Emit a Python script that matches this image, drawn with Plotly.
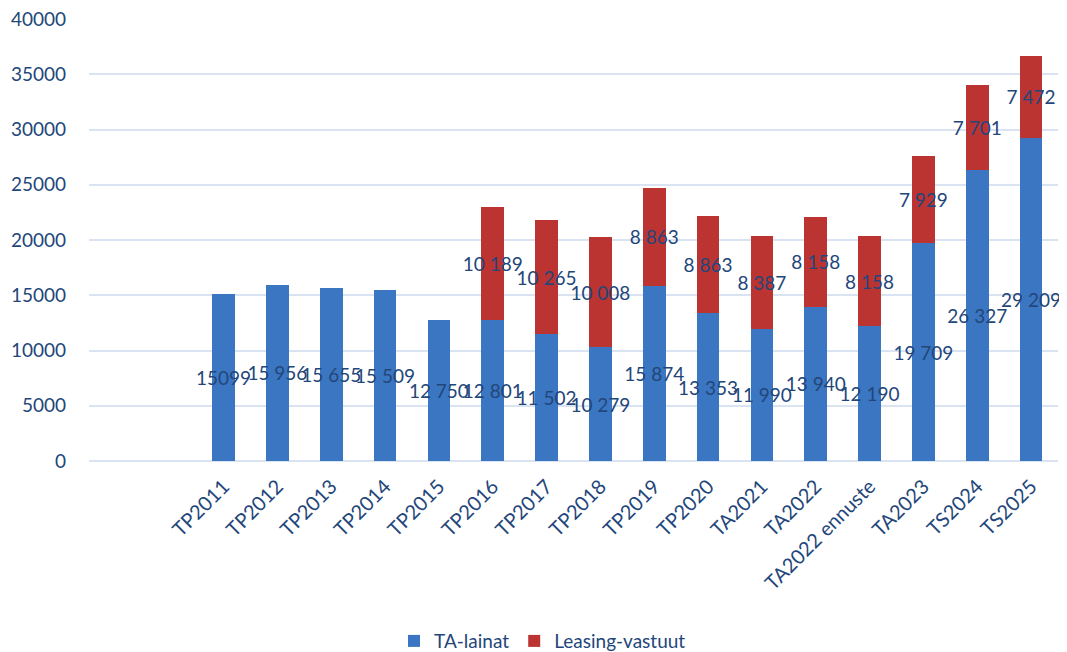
import plotly.graph_objects as go

categories = ["TP2011", "TP2012", "TP2013", "TP2014", "TP2015", "TP2016", "TP2017",
              "TP2018", "TP2019", "TP2020", "TA2021", "TA2022", "TA2022 ennuste",
              "TA2023", "TS2024", "TS2025"]
ta_lainat = [15099, 15956, 15655, 15509, 12750, 12801, 11502, 10279, 15874, 13353,
             11990, 13940, 12190, 19709, 26327, 29209]
leasing = [None, None, None, None, None, 10189, 10265, 10008, 8863, 8863,
           8387, 8158, 8158, 7929, 7701, 7472]


def fmt(v):
    if v is None:
        return ""
    return f"{v:,}".replace(",", " ")


# esimene silt on originaalis ilma tühikuta
ta_text = [fmt(v) for v in ta_lainat]
ta_text[0] = str(ta_lainat[0])
leasing_text = [fmt(v) for v in leasing]

FONT = "Lato"
TXT = "#23467A"

fig = go.Figure()
fig.add_trace(go.Bar(
    x=categories, y=ta_lainat, name="TA-lainat",
    marker=dict(color="#3A76C1", line=dict(width=0)),
    text=ta_text, textposition="inside", insidetextanchor="middle",
    textangle=0, constraintext="none",
    insidetextfont=dict(family=FONT, size=19, color=TXT),
    cliponaxis=False,
))
fig.add_trace(go.Bar(
    x=categories, y=leasing, name="Leasing-vastuut",
    marker=dict(color="#BC3431", line=dict(width=0)),
    text=leasing_text, textposition="inside", insidetextanchor="middle",
    textangle=0, constraintext="none",
    insidetextfont=dict(family=FONT, size=19, color=TXT),
    cliponaxis=False,
))

# lehe body servaruum (8px) on arvesse võetud
fig.update_layout(
    barmode="stack",
    bargap=0.58,
    width=1059, height=644,
    margin=dict(l=81, r=9, t=11, b=191, autoexpand=False),
    plot_bgcolor="white", paper_bgcolor="white",
    font=dict(family=FONT, size=19, color=TXT),
    legend=dict(orientation="h", x=0.468, xanchor="center", yref="container",
                y=0.017, yanchor="middle",
                font=dict(family=FONT, size=19, color=TXT), traceorder="normal"),
    uniformtext=dict(mode=False),
)
fig.update_xaxes(
    type="category", range=[-2.5, 15.5], tickangle=-45, automargin=False,
    showgrid=False, showline=False, ticks="outside", ticklen=5, tickcolor="rgba(0,0,0,0)",
    tickfont=dict(family=FONT, size=20, color=TXT),
)
fig.update_yaxes(
    range=[0, 40000], dtick=5000, tickformat="d", automargin=False,
    showgrid=True, gridcolor="#D9E3F2", gridwidth=2,
    zeroline=True, zerolinecolor="#D9E3F2", zerolinewidth=2,
    showline=False, ticklabelstandoff=22, ticklabeloverflow="allow",
    tickfont=dict(family=FONT, size=19, color=TXT),
)

fig.write_html("out.html")
